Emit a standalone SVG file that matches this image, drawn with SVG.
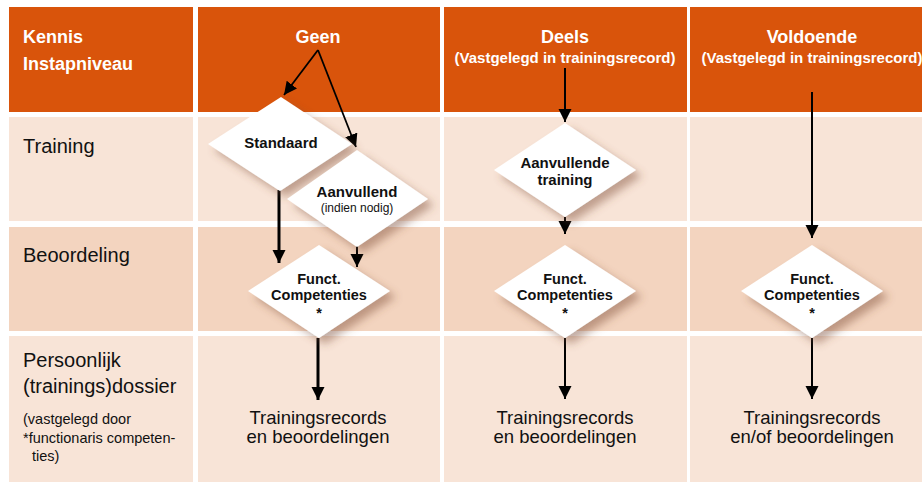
<svg xmlns="http://www.w3.org/2000/svg" width="922" height="483" viewBox="0 0 922 483">
<style>
.hdr{fill:#D9540B}
.r1{fill:#F8E4D7}
.r2{fill:#F3D4BF}
.ht{font-family:"Liberation Sans",Arial,sans-serif;font-weight:bold;fill:#fff}
.lbl{font-family:"Liberation Sans",Arial,sans-serif;fill:#111;font-size:20px}
.sm{font-family:"Liberation Sans",Arial,sans-serif;fill:#111;font-size:14.5px}
.dt{font-family:"Liberation Sans",Arial,sans-serif;font-weight:bold;fill:#111;font-size:15px;text-anchor:middle}
.df{font-family:"Liberation Sans",Arial,sans-serif;font-weight:bold;fill:#111;font-size:14.5px;text-anchor:middle}
.ds{font-family:"Liberation Sans",Arial,sans-serif;fill:#111;font-size:12px;text-anchor:middle}
.bt{font-family:"Liberation Sans",Arial,sans-serif;fill:#111;font-size:18.5px;text-anchor:middle}
.dia{fill:#fff;filter:url(#sh)}
.c{stroke:#000;fill:none;marker-end:url(#ah)}
</style>
<defs>
<filter id="sh" x="-30%" y="-30%" width="160%" height="160%">
<feDropShadow dx="6" dy="6" stdDeviation="4" flood-color="#7a4a30" flood-opacity="0.45"/>
</filter>
<marker id="ah" markerUnits="userSpaceOnUse" markerWidth="14" markerHeight="14" refX="13" refY="6.5" orient="auto">
<path d="M0,0 L13,6.5 L0,13 z" fill="#000"/>
</marker>
</defs>
<rect width="922" height="483" fill="#fff"/>
<g id="grid">
<rect class="hdr" x="9" y="7" width="184" height="105"/>
<rect class="hdr" x="198" y="7" width="242" height="105"/>
<rect class="hdr" x="444" y="7" width="243" height="105"/>
<rect class="hdr" x="690" y="7" width="232" height="105"/>
<rect class="r1" x="9" y="117" width="184" height="104"/>
<rect class="r1" x="198" y="117" width="242" height="104"/>
<rect class="r1" x="444" y="117" width="243" height="104"/>
<rect class="r1" x="690" y="117" width="232" height="104"/>
<rect class="r2" x="9" y="227" width="184" height="104"/>
<rect class="r2" x="198" y="227" width="242" height="104"/>
<rect class="r2" x="444" y="227" width="243" height="104"/>
<rect class="r2" x="690" y="227" width="232" height="104"/>
<rect class="r1" x="9" y="336" width="184" height="146"/>
<rect class="r1" x="198" y="336" width="242" height="146"/>
<rect class="r1" x="444" y="336" width="243" height="146"/>
<rect class="r1" x="690" y="336" width="232" height="146"/>
</g>
<g id="headers">
<text class="ht" x="23" y="43" font-size="18">Kennis</text>
<text class="ht" x="23" y="70" font-size="18">Instapniveau</text>
<text class="ht" x="318" y="43" font-size="18" text-anchor="middle">Geen</text>
<text class="ht" x="565" y="43" font-size="18" text-anchor="middle">Deels</text>
<text class="ht" x="565" y="63" font-size="15" text-anchor="middle">(Vastgelegd in trainingsrecord)</text>
<text class="ht" x="812" y="43" font-size="18" text-anchor="middle">Voldoende</text>
<text class="ht" x="812" y="63" font-size="15" text-anchor="middle">(Vastgelegd in trainingsrecord)</text>
</g>
<g id="rowlabels">
<text class="lbl" x="23" y="153">Training</text>
<text class="lbl" x="23" y="262">Beoordeling</text>
<text class="lbl" x="23" y="367">Persoonlijk</text>
<text class="lbl" x="23" y="393">(trainings)dossier</text>
<text class="sm" x="23" y="424">(vastgelegd door</text>
<text class="sm" x="23" y="443">*functionaris competen-</text>
<text class="sm" x="32" y="461">ties)</text>
</g>
<g id="connectors">
<line class="c" x1="318" y1="50" x2="284" y2="95" stroke-width="1.8"/>
<line class="c" x1="318" y1="50" x2="356" y2="147" stroke-width="1.8"/>
<line class="c" x1="279" y1="190" x2="279" y2="263" stroke-width="3"/>
<line class="c" x1="357" y1="245" x2="357" y2="267" stroke-width="2"/>
<line class="c" x1="318" y1="338" x2="318" y2="400" stroke-width="3"/>
<line class="c" x1="565" y1="68" x2="565" y2="122" stroke-width="2"/>
<line class="c" x1="565" y1="217" x2="565" y2="234" stroke-width="2"/>
<line class="c" x1="565" y1="338" x2="565" y2="399" stroke-width="2"/>
<line class="c" x1="812" y1="92" x2="812" y2="238" stroke-width="2"/>
<line class="c" x1="812" y1="338" x2="812" y2="399" stroke-width="2"/>
</g>
<g id="standaard">
<polygon class="dia" points="281,97 352,144 280,191 208,144"/>
<text class="dt" x="281" y="148">Standaard</text>
</g>
<g id="aanvullend">
<polygon class="dia" points="357,150 428,199 357,247 287,199"/>
<text class="dt" x="357" y="197">Aanvullend</text>
<text class="ds" x="357" y="212">(indien nodig)</text>
</g>
<g id="funct1">
<polygon class="dia" points="319,245 390,291 319,338 248,291"/>
<text class="df" x="319" y="284">Funct.</text>
<text class="df" x="319" y="300">Competenties</text>
<text class="df" x="319" y="318">*</text>
</g>
<g id="aanvullende-training">
<polygon class="dia" points="565,123 636,170 565,217 494,170"/>
<text class="dt" x="565" y="168">Aanvullende</text>
<text class="dt" x="565" y="185">training</text>
</g>
<g id="funct2">
<polygon class="dia" points="565,245 636,291 565,338 494,291"/>
<text class="df" x="565" y="284">Funct.</text>
<text class="df" x="565" y="300">Competenties</text>
<text class="df" x="565" y="318">*</text>
</g>
<g id="funct3">
<polygon class="dia" points="812,245 883,291 812,338 741,291"/>
<text class="df" x="812" y="284">Funct.</text>
<text class="df" x="812" y="300">Competenties</text>
<text class="df" x="812" y="318">*</text>
</g>
<g id="result1">
<text class="bt" x="318" y="424">Trainingsrecords</text>
<text class="bt" x="318" y="443">en beoordelingen</text>
</g>
<g id="result2">
<text class="bt" x="565" y="424">Trainingsrecords</text>
<text class="bt" x="565" y="443">en beoordelingen</text>
</g>
<g id="result3">
<text class="bt" x="812" y="424">Trainingsrecords</text>
<text class="bt" x="812" y="443">en/of beoordelingen</text>
</g>
</svg>
